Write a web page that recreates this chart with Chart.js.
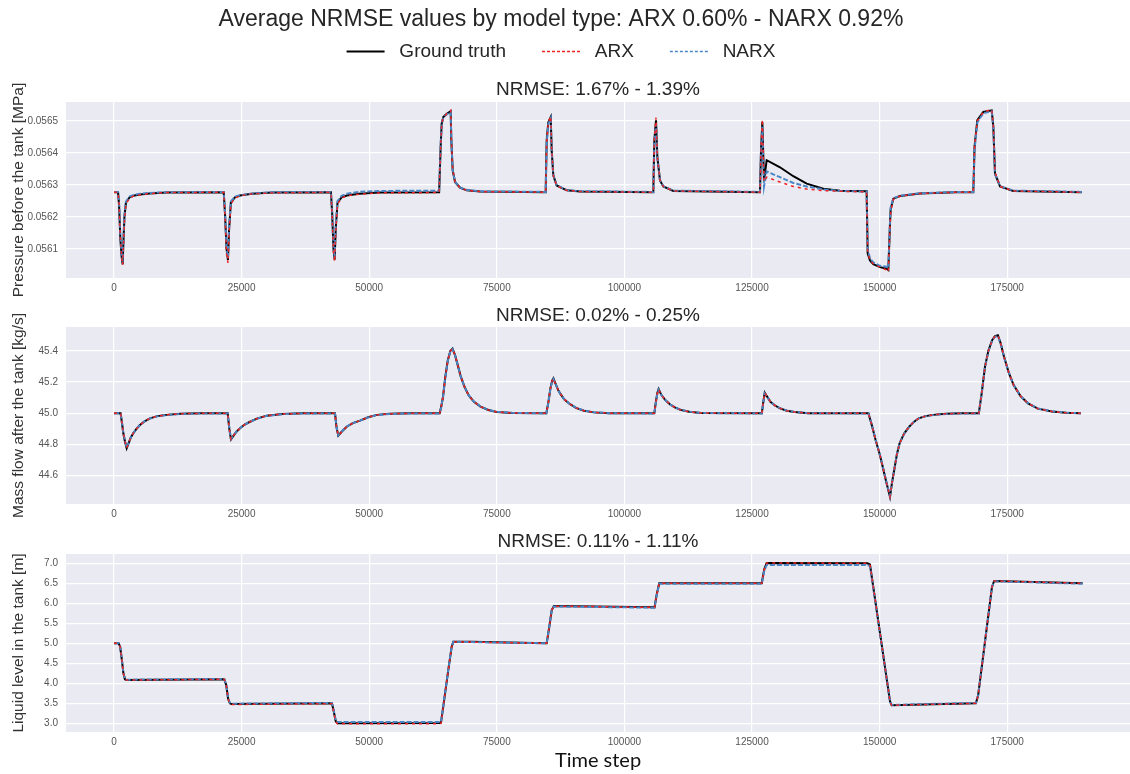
<!DOCTYPE html>
<html>
<head>
<meta charset="utf-8">
<script src="https://cdn.jsdelivr.net/npm/chart.js@4.4.1/dist/chart.umd.min.js"></script>
<style>
  html, body { margin: 0; padding: 0; background: #fff; overflow: hidden; }
  .panel { position: absolute; left: 0; width: 1130px; }
  canvas { display: block; }
</style>
</head>
<body>
<div class="panel" style="top:0px"><canvas id="pressureChart" width="1130" height="298"></canvas></div>
<div class="panel" style="top:298px"><canvas id="flowChart" width="1130" height="224"></canvas></div>
<div class="panel" style="top:522px"><canvas id="levelChart" width="1130" height="252"></canvas></div>
<script>
// time axis (shared)
const stepTicks = [0, 25000, 50000, 75000, 100000, 125000, 150000, 175000];
const stepMin = -9400, stepMax = 199050;

// panel 1 - pressure before the tank [MPa]
const pressureTicks = [0.0561, 0.0562, 0.0563, 0.0564, 0.0565];
const pressureSteps = [0, 800, 1000, 1250, 1500, 1700, 1850, 2050, 2350, 3100, 4000, 5100, 7000, 10300,
  21500, 21750, 22050, 22330, 22550, 22900, 23700, 24700, 27000, 31000,
  42500, 42750, 43000, 43230, 43450, 43800, 44600, 45600, 48000, 52000,
  63700, 64000, 64200, 64520, 65180, 65960, 66090, 66360, 66810, 67790, 69100, 71700,
  84570, 84770, 85090, 85560, 85750, 86070, 86730, 88690, 91300,
  105660, 105860, 106190, 106450, 106970, 107620, 109580,
  126560, 126760, 127020, 127350, 127870, 130480, 133090, 135710, 138970, 142230,
  147450, 147660, 148110, 148760, 150070, 151390, 151700, 152030, 152170, 152680, 153990, 157910, 165000,
  168350, 168600, 169140, 170310, 171960, 172280, 172600, 173590, 176190, 189600];
const pressureTruth = [0.056277, 0.056277, 0.056235, 0.056130, 0.056075, 0.056052, 0.056120, 0.056200, 0.056245, 0.056262, 0.056267, 0.056270, 0.056273, 0.056276,
  0.056277, 0.056210, 0.056100, 0.056065, 0.056160, 0.056245, 0.056261, 0.056267, 0.056272, 0.056276,
  0.056277, 0.056210, 0.056100, 0.056066, 0.056165, 0.056245, 0.056261, 0.056267, 0.056272, 0.056276,
  0.056277, 0.056420, 0.056491, 0.056512, 0.056522, 0.056530, 0.056439, 0.056345, 0.056309, 0.056291, 0.056283, 0.056279,
  0.056277, 0.056439, 0.056496, 0.056512, 0.056408, 0.056330, 0.056298, 0.056283, 0.056279,
  0.056277, 0.056439, 0.056502, 0.056387, 0.056314, 0.056295, 0.056281,
  0.056277, 0.056408, 0.056496, 0.056314, 0.056377, 0.056355, 0.056327, 0.056304, 0.056288, 0.056282,
  0.056280, 0.056085, 0.056064, 0.056052, 0.056043, 0.056038, 0.056034, 0.056179, 0.056225, 0.056257, 0.056265, 0.056273, 0.056277,
  0.056277, 0.056420, 0.056502, 0.056528, 0.056533, 0.056480, 0.056335, 0.056295, 0.056281, 0.056277];
const pressureArx = [0.056277, 0.056277, 0.056240, 0.056135, 0.056078, 0.056050, 0.056110, 0.056190, 0.056240, 0.056260, 0.056266, 0.056269, 0.056273, 0.056276,
  0.056277, 0.056205, 0.056085, 0.056056, 0.056150, 0.056240, 0.056259, 0.056266, 0.056272, 0.056275,
  0.056277, 0.056205, 0.056090, 0.056060, 0.056155, 0.056240, 0.056259, 0.056266, 0.056271, 0.056275,
  0.056276, 0.056420, 0.056490, 0.056510, 0.056522, 0.056533, 0.056445, 0.056350, 0.056310, 0.056291, 0.056283, 0.056279,
  0.056277, 0.056435, 0.056495, 0.056514, 0.056410, 0.056330, 0.056297, 0.056283, 0.056279,
  0.056277, 0.056442, 0.056510, 0.056390, 0.056314, 0.056295, 0.056281,
  0.056277, 0.056415, 0.056505, 0.056310, 0.056324, 0.056309, 0.056295, 0.056287, 0.056282, 0.056280,
  0.056278, 0.056090, 0.056066, 0.056053, 0.056043, 0.056034, 0.056028, 0.056170, 0.056215, 0.056255, 0.056265, 0.056273, 0.056277,
  0.056277, 0.056420, 0.056500, 0.056528, 0.056536, 0.056485, 0.056340, 0.056295, 0.056281, 0.056277];
const pressureNarx = [0.056278, 0.056278, 0.056242, 0.056138, 0.056082, 0.056060, 0.056130, 0.056205, 0.056248, 0.056264, 0.056269, 0.056272, 0.056275, 0.056277,
  0.056278, 0.056215, 0.056105, 0.056072, 0.056170, 0.056248, 0.056263, 0.056268, 0.056273, 0.056277,
  0.056278, 0.056215, 0.056105, 0.056072, 0.056175, 0.056250, 0.056266, 0.056272, 0.056278, 0.056281,
  0.056282, 0.056425, 0.056490, 0.056510, 0.056520, 0.056528, 0.056440, 0.056345, 0.056310, 0.056292, 0.056284, 0.056280,
  0.056278, 0.056430, 0.056490, 0.056508, 0.056405, 0.056330, 0.056299, 0.056284, 0.056280,
  0.056278, 0.056430, 0.056490, 0.056385, 0.056315, 0.056296, 0.056282,
  0.056278, 0.056400, 0.056482, 0.056295, 0.056342, 0.056324, 0.056306, 0.056295, 0.056286, 0.056281,
  0.056279, 0.056100, 0.056070, 0.056058, 0.056047, 0.056044, 0.056040, 0.056185, 0.056230, 0.056258, 0.056266, 0.056274, 0.056278,
  0.056278, 0.056410, 0.056495, 0.056524, 0.056530, 0.056480, 0.056335, 0.056296, 0.056282, 0.056278];

// panel 2 - mass flow after the tank [kg/s]
const flowTicks = [44.6, 44.8, 45.0, 45.2, 45.4];
const flowSteps = [0, 1300, 1600, 1830, 2150, 2490, 2900, 3300, 3790, 4400, 5090, 6000, 7050, 8500, 10320, 13000, 17000,
  22270, 22600, 22920, 23500, 24000, 24690, 25600, 26650, 28000, 29920, 33000, 37000,
  43300, 43600, 43940, 44600, 45590, 46800, 48200, 49800, 51500, 54000, 58000,
  63800, 64100, 64460, 64900, 65400, 65900, 66320, 66800, 67260, 67900, 68670, 69500, 70530, 71800, 73350, 75000, 78000,
  84700, 85100, 85500, 85850, 86090, 86500, 87000, 87400, 88200, 89280, 90500, 92080, 94000, 97000,
  105860, 106150, 106450, 106700, 107200, 108010, 108900, 109870, 111000, 112690, 115000,
  126920, 127200, 127490, 127900, 128610, 129500, 130490, 131800, 133290, 136000,
  147800, 148500, 149210, 150000, 150600, 151300, 152030, 152400, 152970, 153400, 153910, 154800, 155790, 156700, 157650, 159000, 160450, 163000, 166000,
  169430, 170000, 170640, 171300, 172060, 172600, 173170, 173700, 174370, 175300, 176250, 177600, 179070, 181000, 183750, 186500, 189450];
const flowTruth = [45.000, 45.000, 44.930, 44.872, 44.820, 44.776, 44.810, 44.845, 44.872, 44.900, 44.925, 44.949, 44.968, 44.982, 44.990, 44.997, 45.000,
  45.000, 44.900, 44.833, 44.860, 44.882, 44.904, 44.928, 44.946, 44.966, 44.985, 44.996, 45.000,
  45.000, 44.910, 44.857, 44.882, 44.914, 44.937, 44.953, 44.975, 44.990, 44.997, 45.000,
  45.000, 45.040, 45.106, 45.230, 45.340, 45.400, 45.415, 45.375, 45.320, 45.240, 45.170, 45.115, 45.074, 45.043, 45.021, 45.009, 45.002,
  45.000, 45.070, 45.160, 45.210, 45.224, 45.190, 45.150, 45.128, 45.090, 45.060, 45.035, 45.017, 45.006, 45.001,
  45.000, 45.070, 45.130, 45.156, 45.120, 45.085, 45.058, 45.038, 45.022, 45.010, 45.002,
  45.000, 45.070, 45.132, 45.110, 45.074, 45.050, 45.032, 45.017, 45.008, 45.001,
  45.000, 44.920, 44.829, 44.740, 44.658, 44.560, 44.465, 44.550, 44.658, 44.740, 44.808, 44.870, 44.914, 44.945, 44.968, 44.982, 44.990, 44.997, 45.000,
  45.000, 45.130, 45.299, 45.400, 45.470, 45.495, 45.500, 45.450, 45.363, 45.260, 45.181, 45.110, 45.064, 45.030, 45.012, 45.003, 45.000];
const flowArx = [45.000, 45.000, 44.931, 44.873, 44.821, 44.778, 44.811, 44.845, 44.873, 44.900, 44.925, 44.949, 44.968, 44.982, 44.990, 44.997, 45.000,
  45.000, 44.901, 44.834, 44.860, 44.882, 44.904, 44.928, 44.946, 44.966, 44.985, 44.996, 45.000,
  45.000, 44.911, 44.858, 44.882, 44.914, 44.937, 44.953, 44.975, 44.990, 44.997, 45.000,
  45.000, 45.040, 45.105, 45.229, 45.339, 45.399, 45.414, 45.374, 45.320, 45.240, 45.170, 45.115, 45.074, 45.043, 45.021, 45.009, 45.002,
  45.000, 45.070, 45.159, 45.209, 45.223, 45.190, 45.150, 45.128, 45.090, 45.060, 45.035, 45.017, 45.006, 45.001,
  45.000, 45.069, 45.129, 45.155, 45.120, 45.085, 45.058, 45.038, 45.022, 45.010, 45.002,
  45.000, 45.069, 45.131, 45.110, 45.074, 45.050, 45.032, 45.017, 45.008, 45.001,
  45.000, 44.921, 44.830, 44.741, 44.659, 44.561, 44.466, 44.551, 44.658, 44.740, 44.808, 44.870, 44.914, 44.945, 44.968, 44.982, 44.990, 44.997, 45.000,
  45.000, 45.129, 45.298, 45.399, 45.469, 45.494, 45.499, 45.449, 45.363, 45.260, 45.181, 45.110, 45.064, 45.030, 45.012, 45.003, 45.000];
const flowNarx = [45.000, 45.000, 44.932, 44.875, 44.823, 44.780, 44.812, 44.846, 44.874, 44.901, 44.926, 44.949, 44.967, 44.981, 44.989, 44.996, 44.999,
  44.999, 44.902, 44.836, 44.861, 44.883, 44.905, 44.928, 44.946, 44.965, 44.984, 44.995, 44.999,
  44.999, 44.912, 44.860, 44.884, 44.915, 44.937, 44.953, 44.974, 44.989, 44.996, 44.999,
  44.999, 45.039, 45.104, 45.226, 45.336, 45.397, 45.412, 45.373, 45.318, 45.239, 45.170, 45.115, 45.075, 45.044, 45.022, 45.010, 45.003,
  44.999, 45.068, 45.157, 45.206, 45.220, 45.188, 45.149, 45.127, 45.090, 45.060, 45.036, 45.018, 45.007, 45.001,
  44.999, 45.067, 45.126, 45.152, 45.119, 45.085, 45.058, 45.039, 45.023, 45.011, 45.002,
  44.999, 45.067, 45.128, 45.109, 45.074, 45.050, 45.033, 45.018, 45.009, 45.001,
  44.999, 44.922, 44.831, 44.743, 44.662, 44.565, 44.470, 44.553, 44.660, 44.741, 44.808, 44.869, 44.913, 44.944, 44.967, 44.981, 44.989, 44.996, 44.999,
  44.999, 45.127, 45.295, 45.396, 45.466, 45.491, 45.496, 45.448, 45.362, 45.260, 45.182, 45.111, 45.065, 45.031, 45.013, 45.004, 45.000];

// panel 3 - liquid level in the tank [m]
const levelTicks = [3.0, 3.5, 4.0, 4.5, 5.0, 5.5, 6.0, 6.5, 7.0];
const levelSteps = [0, 900, 1200, 1550, 1850, 2150, 2400,
  21600, 22000, 22350, 22700, 23000,
  42700, 43050, 43450, 43800,
  63800, 64070, 64510, 65490, 66160, 66480, 70000,
  84770, 85290, 85760, 86200,
  105900, 106300, 106820,
  126900, 127400, 127870,
  147600, 148110, 152030, 152360,
  168860, 169300, 172000, 172430, 189770];
const levelTruth = [5.00, 5.00, 4.92, 4.58, 4.25, 4.10, 4.08,
  4.10, 3.95, 3.62, 3.50, 3.48,
  3.50, 3.30, 3.05, 3.00,
  3.01, 3.02, 3.415, 4.33, 4.915, 5.04, 5.04,
  5.00, 5.415, 5.83, 5.93,
  5.90, 6.20, 6.50,
  6.50, 6.85, 7.01,
  7.00, 6.97, 3.55, 3.45,
  3.50, 3.70, 6.40, 6.56, 6.50];
const levelArx = [5.00, 5.00, 4.92, 4.58, 4.25, 4.10, 4.08,
  4.10, 3.95, 3.61, 3.49, 3.47,
  3.49, 3.29, 3.03, 2.99,
  2.99, 3.00, 3.41, 4.33, 4.91, 5.03, 5.03,
  5.00, 5.41, 5.83, 5.93,
  5.90, 6.20, 6.50,
  6.50, 6.85, 7.01,
  7.00, 6.97, 3.55, 3.45,
  3.50, 3.70, 6.40, 6.56, 6.50];
const levelNarx = [5.00, 5.00, 4.93, 4.59, 4.26, 4.11, 4.09,
  4.11, 3.96, 3.63, 3.51, 3.49,
  3.51, 3.32, 3.07, 3.03,
  3.03, 3.04, 3.43, 4.34, 4.92, 5.04, 5.03,
  5.00, 5.42, 5.83, 5.92,
  5.89, 6.19, 6.49,
  6.49, 6.81, 6.96,
  6.96, 6.93, 3.55, 3.46,
  3.51, 3.70, 6.40, 6.55, 6.49];

const seriesColors = ['#000000', '#ee2222', '#4a86c5'];

Chart.defaults.font.family = "'Liberation Sans', Arial, sans-serif";
Chart.defaults.color = '#262626';

const plotBackground = {
  id: 'plotBackground',
  beforeDraw(chart) {
    const { ctx, chartArea: a } = chart;
    ctx.save();
    ctx.fillStyle = '#eaeaf2';
    ctx.fillRect(a.left, a.top, a.right - a.left, a.bottom - a.top);
    ctx.restore();
  }
};

function lineSets(steps, truth, arx, narx) {
  const xy = vals => steps.map((t, i) => ({ x: t, y: vals[i] }));
  return [
    { label: 'Ground truth', data: xy(truth), borderColor: seriesColors[0], borderWidth: 2, order: 2 },
    { label: 'ARX', data: xy(arx), borderColor: seriesColors[1], borderWidth: 1.5, borderDash: [3, 4], order: 0 },
    { label: 'NARX', data: xy(narx), borderColor: seriesColors[2], borderWidth: 2, borderDash: [5, 2], order: 1 }
  ].map(ds => ({ ...ds, pointRadius: 0, pointBorderColor: ds.borderColor, pointBackgroundColor: ds.borderColor,
    tension: 0, fill: false }));
}

// legend: short dashed samples in the series colours
const legendLabels = chart => chart.data.datasets.map((ds, i) => ({
  text: ' ' + ds.label,
  datasetIndex: i,
  hidden: false,
  pointStyle: 'line',
  rotation: 0,
  fontColor: '#262626',
  fillStyle: seriesColors[i],
  strokeStyle: seriesColors[i],
  lineWidth: i === 0 ? 2 : 1.5,
  lineCap: 'butt',
  lineDash: i === 0 ? [] : [3, 2],
  lineDashOffset: 0
}));

function makeChart(id, cfg) {
  return new Chart(document.getElementById(id), {
    type: 'line',
    data: { datasets: lineSets(cfg.steps, cfg.truth, cfg.arx, cfg.narx) },
    options: {
      responsive: false,
      animation: false,
      events: [],
      layout: { padding: { left: cfg.padLeft || 0, right: 0, top: 0, bottom: 0 } },
      plugins: {
        title: cfg.title || { display: false },
        legend: cfg.legend || { display: false },
        subtitle: {
          display: true, text: cfg.subtitle, fullSize: false, color: '#262626',
          font: { size: 19 }, padding: cfg.subPad
        },
        tooltip: { enabled: false }
      },
      scales: {
        x: {
          type: 'linear', min: stepMin, max: stepMax,
          afterBuildTicks: s => { s.ticks = stepTicks.map(v => ({ value: v })); },
          afterFit: s => { s.height = cfg.xHeight; },
          grid: { color: '#ffffff', lineWidth: 1.2, drawTicks: false },
          border: { display: false },
          ticks: { padding: 4, color: '#555555', font: { size: 10 }, autoSkip: false, maxRotation: 0,
            callback: v => String(v) },
          title: cfg.xTitle || { display: false }
        },
        y: {
          min: cfg.yMin, max: cfg.yMax,
          afterBuildTicks: s => { s.ticks = cfg.yTicks.map(v => ({ value: v })); },
          afterFit: s => { s.width = 66 - (cfg.padLeft || 0); },
          grid: { color: '#ffffff', lineWidth: 1.2, drawTicks: false },
          border: { display: false },
          ticks: { padding: 8, color: '#555555', font: { size: 10 },
            callback: v => v.toFixed(cfg.digits) },
          title: { display: true, text: cfg.yLabel, color: '#333333', font: { size: 15.5 },
            padding: { top: 9.7 - (cfg.padLeft || 0), bottom: 0 } }
        }
      }
    },
    plugins: [plotBackground]
  });
}

makeChart('pressureChart', {
  steps: pressureSteps, truth: pressureTruth, arx: pressureArx, narx: pressureNarx,
  padLeft: -8,
  title: { display: true, text: 'Average NRMSE values by model type: ARX 0.60% - NARX 0.92%',
    color: '#262626', font: { size: 23, weight: 'normal' }, padding: { top: 6.2, bottom: -27.8 } },
  legend: { display: true, position: 'top', weight: 1800,
    labels: { usePointStyle: true, pointStyle: 'line', pointStyleWidth: 38, padding: 36,
      color: '#262626', font: { size: 19 }, generateLabels: legendLabels } },
  subtitle: 'NRMSE: 1.67% - 1.39%', subPad: { top: 7.6, bottom: 0.6 },
  xHeight: 20, yMin: 0.056009, yMax: 0.056559, yTicks: pressureTicks, digits: 4,
  yLabel: 'Pressure before the tank [MPa]'
});

makeChart('flowChart', {
  steps: flowSteps, truth: flowTruth, arx: flowArx, narx: flowNarx,
  subtitle: 'NRMSE: 0.02% - 0.25%', subPad: { top: 6.1, bottom: 0.1 },
  xHeight: 18, yMin: 44.419, yMax: 45.553, yTicks: flowTicks, digits: 1,
  yLabel: 'Mass flow after the tank [kg/s]'
});

makeChart('levelChart', {
  steps: levelSteps, truth: levelTruth, arx: levelArx, narx: levelNarx,
  subtitle: 'NRMSE: 0.11% - 1.11%', subPad: { top: 8.6, bottom: 0.6 },
  xHeight: 42, yMin: 2.7825, yMax: 7.2325, yTicks: levelTicks, digits: 1,
  xTitle: { display: true, text: 'Time step', color: '#111111',
    font: { size: 20, family: "Lato, 'Liberation Sans', sans-serif" }, padding: { top: 0, bottom: 1 } },
  yLabel: 'Liquid level in the tank [m]'
});
</script>
</body>
</html>
